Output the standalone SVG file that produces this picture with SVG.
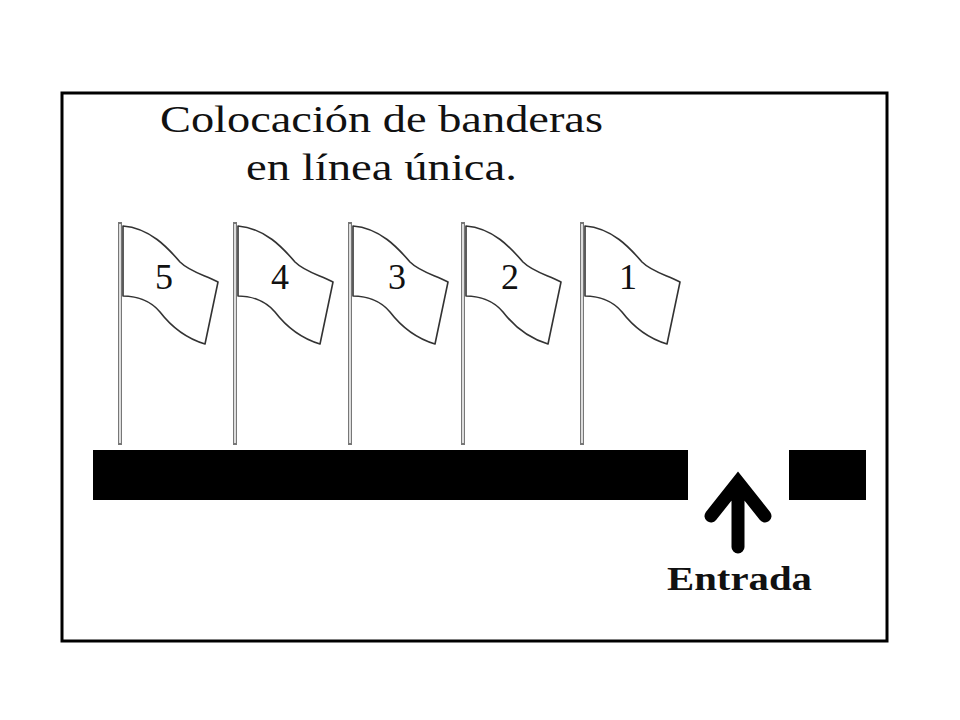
<svg xmlns="http://www.w3.org/2000/svg" width="960" height="720" viewBox="0 0 960 720">
<style>
.t{font-family:"Liberation Serif","DejaVu Serif",serif;fill:#111}
.pole{fill:none;stroke:#777;stroke-width:4}
.poleIn{fill:none;stroke:#fff;stroke-width:1.5}
.flag{fill:#fff;stroke:#333;stroke-width:1.6;stroke-linejoin:round}
.n{font-size:36px;text-anchor:middle}
</style>
<defs>
<g id="flagShape">
<line class="pole" x1="0" y1="222" x2="0" y2="445"/>
<line class="poleIn" x1="0" y1="224" x2="0" y2="443"/>
<path class="flag" d="M3,226 C30,228 48,248 60,262 C70,272 85,275 98,282 L85,344 C65,338 50,325 40,312 C30,300 15,296 3,296 Z"/>
</g>
</defs>
<rect x="0" y="0" width="960" height="720" fill="#fff"/>
<rect x="62" y="93" width="825" height="548" fill="#fff" stroke="#000" stroke-width="3"/>
<text class="t" x="160" y="132" font-size="38" textLength="443" lengthAdjust="spacingAndGlyphs">Colocación de banderas</text>
<text class="t" x="246" y="180" font-size="38" textLength="271" lengthAdjust="spacingAndGlyphs">en línea única.</text>
<g id="flag5"><use href="#flagShape" x="120"/><text class="t n" x="164" y="289">5</text></g>
<g id="flag4"><use href="#flagShape" x="235"/><text class="t n" x="280" y="289">4</text></g>
<g id="flag3"><use href="#flagShape" x="350"/><text class="t n" x="397" y="289">3</text></g>
<g id="flag2"><use href="#flagShape" x="463"/><text class="t n" x="510" y="289">2</text></g>
<g id="flag1"><use href="#flagShape" x="582"/><text class="t n" x="628" y="289">1</text></g>
<g id="wall">
<rect x="93" y="450" width="595" height="50" fill="#000"/>
<rect x="789" y="450" width="77" height="50" fill="#000"/>
</g>
<g id="connectors">
<path d="M711,516 L738,482 L765,516 M738,484 L738,547" fill="none" stroke="#000" stroke-width="13" stroke-linecap="round" stroke-linejoin="miter"/>
</g>
<g id="entrada"><text class="t" x="667" y="590" font-size="34" font-weight="bold" textLength="145" lengthAdjust="spacingAndGlyphs">Entrada</text></g>
</svg>
